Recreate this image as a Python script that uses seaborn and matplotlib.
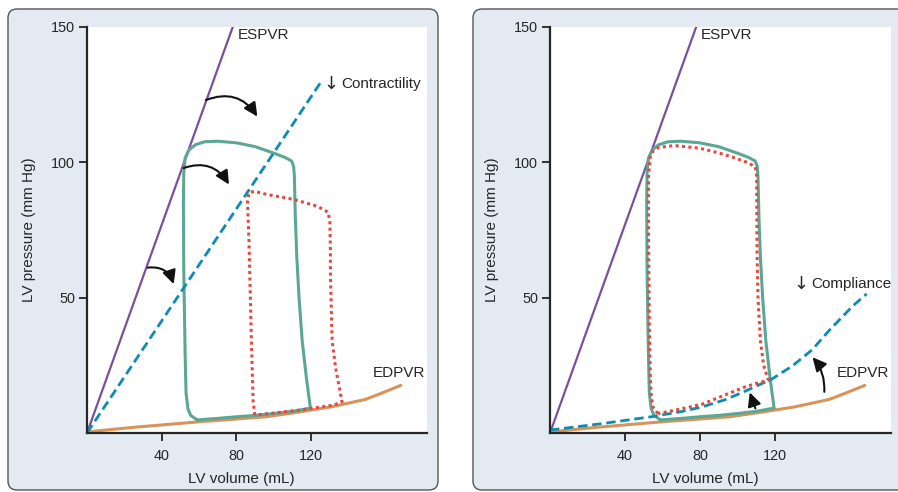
import matplotlib
matplotlib.use("Agg")
import matplotlib.pyplot as plt
import seaborn as sns
from matplotlib.patches import FancyBboxPatch
from matplotlib.transforms import IdentityTransform

# --- data (LV volume in mL, LV pressure in mm Hg) ---
espvr_x = [0, 78]
espvr_y = [0, 150]

edpvr_x = [0, 25, 61, 96, 113, 131, 149, 158, 168]
edpvr_y = [0.4, 2.1, 4.2, 6.0, 7.7, 9.7, 12.4, 14.8, 17.6]

contract_x = [0, 126]
contract_y = [0, 130.5]

compliance_x = [0, 27, 54, 70, 81, 93.5, 104, 118.6, 129.4, 140, 149, 161.7, 169]
compliance_y = [1.1, 3.4, 6.0, 7.9, 9.6, 12.3, 15.4, 20.0, 24.8, 30.8, 37.9, 47.0, 51.4]

# control loop (same in both panels)
loop_x = [59, 55.5, 54, 53, 52.5, 51.8, 51.6, 51.8, 52.5, 54.5, 58, 63, 70, 80, 90,
          100, 106, 109.5, 110.6, 111, 111.5, 112.3, 113.5, 115.2, 117.5, 119.6,
          110, 100, 90, 80, 70, 62, 59]
loop_y = [4.8, 6.5, 9, 15, 30, 60, 85, 96, 101.5, 104.5, 106.5, 107.6, 107.8, 107.2, 105.8,
          103.4, 101.8, 100.5, 98.5, 95, 80, 65, 50, 34, 20, 9.2,
          8.0, 7.2, 6.5, 6.0, 5.4, 5.0, 4.8]

# reduced contractility loop (left panel)
low_c_x = [89.8, 88.9, 88.0, 86.7, 85.9, 86.7, 89.4, 96.5, 110.7, 123.2, 129, 130, 130.3,
           130.3, 131.2, 133, 136.5, 132, 114.3, 89.8]
low_c_y = [6.6, 12.1, 34.2, 71, 85.6, 88.7, 89.3, 88.1, 86.3, 83.8, 81.6, 78.3, 67.3,
           58.7, 34.2, 24.4, 11.5, 10.3, 8.5, 6.6]

# reduced compliance loop (right panel)
low_k_x = [57.6, 55, 54, 53.5, 53, 52.6, 52.6, 53.5, 55, 58, 66.5, 80, 90, 98.8, 106,
           109.6, 110.3, 110.5, 111, 112.3, 114, 116.5, 110, 104, 95, 81, 70, 63, 57.6]
low_k_y = [7.2, 9.5, 14, 22, 40, 70, 95, 102, 104.2, 105.5, 106.2, 105.2, 103.5, 101.6, 99.8,
           98.2, 95, 67, 50, 34.2, 25, 19.5, 18.3, 17, 14.5, 10.6, 8.9, 7.9, 7.2]

x_ticks = [40, 80, 120]
y_ticks = [50, 100, 150]

purple = "#7b4f9b"
green = "#5aa894"
red = "#e8473f"
blue = "#0d8cb2"
orange = "#d8935a"
panel_bg = "#e3eaf1"

sns.set_style("ticks")
plt.rcParams['font.family'] = ['Liberation Sans', 'DejaVu Sans']

fig = plt.figure(figsize=(8.98, 4.92), dpi=100)

# rounded panel backgrounds (pixel coords)
for x0, w in [(8, 430), (473, 440)]:
    fig.patches.append(FancyBboxPatch((x0, 2), w, 481, boxstyle="round,pad=0,rounding_size=9",
                                      transform=IdentityTransform(), facecolor=panel_bg,
                                      edgecolor="#555555", lw=1.0, zorder=-5))

ax1 = fig.add_axes([87 / 898, 59 / 492, 340 / 898, 406 / 492])
ax2 = fig.add_axes([550 / 898, 59 / 492, 341 / 898, 406 / 492])


def line(ax, xs, ys, color, lw, ls="-"):
    sns.lineplot(x=xs, y=ys, sort=False, estimator=None, color=color, lw=lw,
                 linestyle=ls, ax=ax, solid_capstyle="round", dash_capstyle="butt")


def arrow(ax, start, end, rad):
    ax.annotate("", xy=end, xytext=start,
                arrowprops=dict(arrowstyle="-|>,head_length=0.55,head_width=0.27",
                                connectionstyle=f"arc3,rad={rad}", color="#111111",
                                lw=1.5, mutation_scale=15, shrinkA=0, shrinkB=0))


def down_label(ax, x, y, word):
    ax.text(x, y, "↓", va="center", ha="center", fontsize=13, family="DejaVu Sans")
    ax.annotate(word, xy=(x, y), xytext=(7.5, 0), textcoords="offset points",
                va="center", ha="left", fontsize=11)


for ax in (ax1, ax2):
    ax.set_facecolor("white")
    ax.set_xlim(0, 182)
    ax.set_ylim(0, 150)
    ax.set_xticks(x_ticks)
    ax.set_yticks(y_ticks)
    sns.despine(ax=ax)
    ax.spines["left"].set_linewidth(1.6)
    ax.spines["bottom"].set_linewidth(1.6)
    ax.tick_params(axis="both", length=5.5, width=1.1, color="black", labelsize=10.4)
    ax.tick_params(axis="x", pad=6)
    ax.tick_params(axis="y", pad=3)
    ax.set_xlabel("LV volume (mL)", fontsize=11)
    ax.set_ylabel("LV pressure (mm Hg)", fontsize=11)
    ax.xaxis.set_label_coords(0.455, -0.095)
    ax.yaxis.set_label_coords(-0.15, 0.5)
    line(ax, espvr_x, espvr_y, purple, 1.6)
    line(ax, edpvr_x, edpvr_y, orange, 2.2)
    line(ax, loop_x, loop_y, green, 2.2)
    ax.text(80.5, 147, "ESPVR", va="center", ha="left", fontsize=11)
    ax.text(153, 22, "EDPVR", va="center", ha="left", fontsize=11)

# left: reduced contractility
line(ax1, contract_x, contract_y, blue, 2.0, (0, (3.4, 1.7)))
line(ax1, low_c_x, low_c_y, red, 2.2, (0, (1, 1.1)))
down_label(ax1, 130.6, 129, "Contractility")
arrow(ax1, (63.6, 123), (91.2, 116.9), -0.4)
arrow(ax1, (51.7, 97.9), (76, 91.8), -0.4)
arrow(ax1, (32.5, 61.1), (46.4, 55), -0.4)

# right: reduced compliance
line(ax2, compliance_x, compliance_y, blue, 2.0, (0, (3.4, 1.7)))
line(ax2, low_k_x, low_k_y, red, 2.2, (0, (1, 1.1)))
down_label(ax2, 134.1, 55, "Compliance")
arrow(ax2, (146.4, 15.2), (140.1, 28), 0.2)
arrow(ax2, (109.6, 9.1), (106.6, 15), 0)

fig.savefig("out.png", dpi=100)
